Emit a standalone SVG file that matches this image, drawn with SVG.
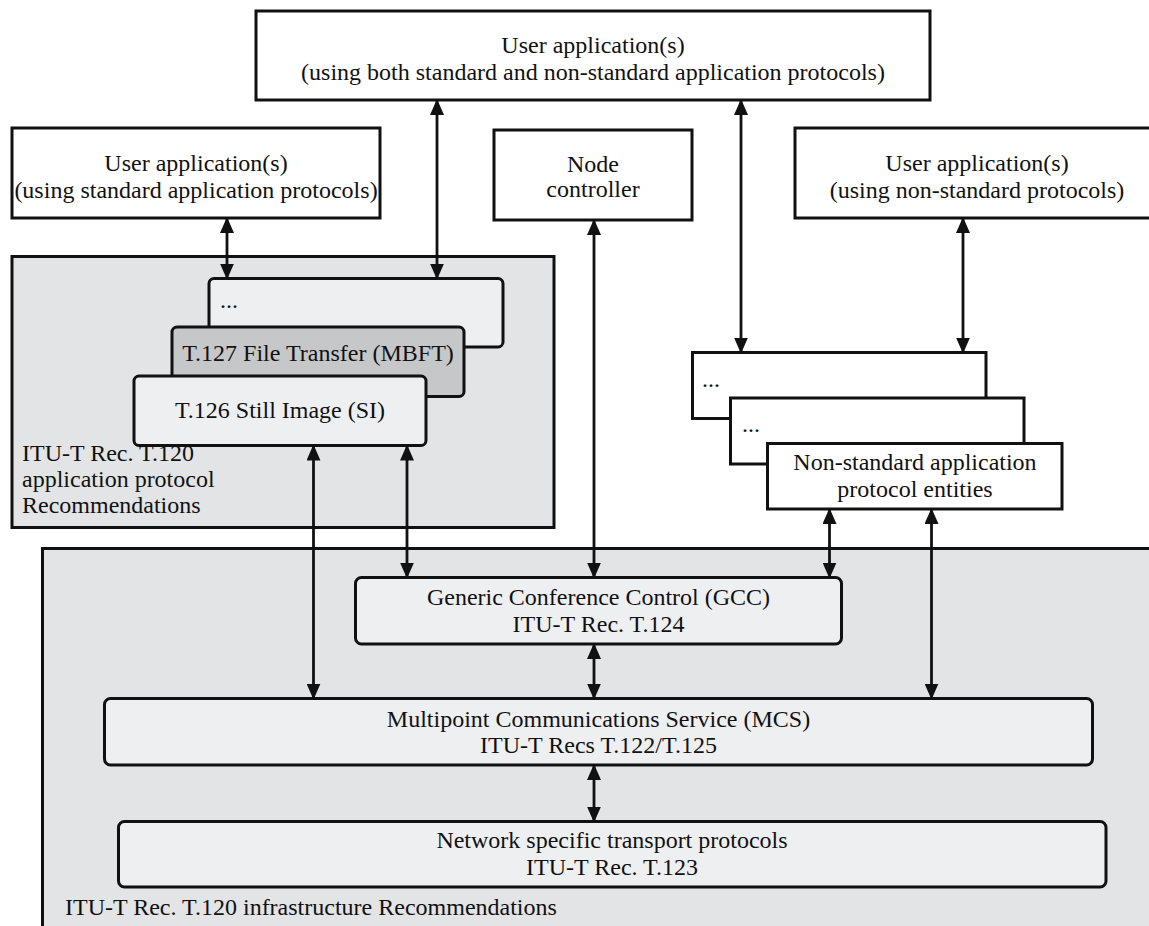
<svg xmlns="http://www.w3.org/2000/svg" width="1149" height="926" viewBox="0 0 1149 926">
  <style>
    text { font-family: 'Liberation Serif', 'Times New Roman', Tinos, 'DejaVu Serif', serif; font-size: 24px; fill: #111; }
    .c { text-anchor: middle; }
    .box { fill: #ffffff; stroke: #111; stroke-width: 3; }
    .area { fill: #e3e4e6; stroke: #111; stroke-width: 3; }
    .layer { fill: #eeeff1; stroke: #111; stroke-width: 3; }
    .dark { fill: #c6c7c9; stroke: #111; stroke-width: 3; }
    .link { fill: none; stroke: #111; stroke-width: 2.8; marker-start: url(#head); marker-end: url(#head); }
  </style>
  <defs>
    <marker id="head" viewBox="0 0 16 14" markerWidth="16" markerHeight="14" refX="15" refY="7" markerUnits="userSpaceOnUse" orient="auto-start-reverse">
      <path d="M0,0 L16,7 L0,14 Z" fill="#111"/>
    </marker>
  </defs>

  <rect width="1149" height="926" fill="#ffffff"/>

  <g font-family="'Liberation Serif', 'Times New Roman', serif" font-size="24">

  <!-- infrastructure area (runs off the right and bottom edges) -->
  <g id="infrastructure">
    <rect class="area" x="42.5" y="548.5" width="1130" height="400"/>
    <text x="65" y="915">ITU-T Rec. T.120 infrastructure Recommendations</text>
  </g>

  <!-- application protocol area -->
  <g id="app-protocols">
    <rect class="area" x="12" y="256.5" width="542" height="271"/>
    <text x="22" y="461">ITU-T Rec. T.120</text>
    <text x="22" y="487">application protocol</text>
    <text x="22" y="513">Recommendations</text>
  </g>

  <!-- top user applications -->
  <g id="user-app-both">
    <rect class="box" x="256" y="11" width="674" height="89"/>
    <text class="c" x="593" y="53">User application(s)</text>
    <text class="c" x="593" y="80">(using both standard and non-standard application protocols)</text>
  </g>

  <g id="user-app-standard">
    <rect class="box" x="12" y="128" width="368" height="90"/>
    <text class="c" x="196" y="171">User application(s)</text>
    <text class="c" x="196" y="198">(using standard application protocols)</text>
  </g>

  <g id="node-controller">
    <rect class="box" x="494" y="130" width="198" height="90"/>
    <text class="c" x="593" y="172">Node</text>
    <text class="c" x="593" y="197">controller</text>
  </g>

  <g id="user-app-nonstandard">
    <rect class="box" x="795" y="128" width="370" height="90"/>
    <text class="c" x="977" y="171">User application(s)</text>
    <text class="c" x="977" y="198">(using non-standard protocols)</text>
  </g>

  <!-- stacked standard application protocol entities -->
  <g id="app-more">
    <rect class="layer" x="209" y="278.5" width="294" height="68.5" rx="5"/>
    <text x="220" y="308">...</text>
  </g>
  <g id="t127">
    <rect class="dark" x="172" y="327" width="292" height="69.5" rx="5"/>
    <text class="c" x="318" y="361">T.127 File Transfer (MBFT)</text>
  </g>
  <g id="t126">
    <rect class="layer" x="134" y="376" width="292" height="69.5" rx="5"/>
    <text class="c" x="280" y="418">T.126 Still Image (SI)</text>
  </g>

  <!-- stacked non-standard application protocol entities -->
  <g id="ns-more-1">
    <rect class="box" x="692.5" y="352.5" width="293.5" height="66"/>
    <text x="702" y="387">...</text>
  </g>
  <g id="ns-more-2">
    <rect class="box" x="730.5" y="398" width="293.5" height="66"/>
    <text x="742" y="432">...</text>
  </g>
  <g id="ns-entities">
    <rect class="box" x="767.5" y="443.5" width="294.5" height="65.5"/>
    <text class="c" x="915" y="470">Non-standard application</text>
    <text class="c" x="915" y="497">protocol entities</text>
  </g>

  <!-- infrastructure layers -->
  <g id="gcc">
    <rect class="layer" x="355.5" y="577.5" width="486" height="66.5" rx="6"/>
    <text class="c" x="598.5" y="605">Generic Conference Control (GCC)</text>
    <text class="c" x="598.5" y="632">ITU-T Rec. T.124</text>
  </g>
  <g id="mcs">
    <rect class="layer" x="104.5" y="698.5" width="988" height="66.5" rx="6"/>
    <text class="c" x="598.5" y="727">Multipoint Communications Service (MCS)</text>
    <text class="c" x="598.5" y="753">ITU-T Recs T.122/T.125</text>
  </g>
  <g id="transport">
    <rect class="layer" x="118.5" y="821.5" width="987.5" height="65.5" rx="6"/>
    <text class="c" x="612" y="848">Network specific transport protocols</text>
    <text class="c" x="612" y="875">ITU-T Rec. T.123</text>
  </g>

  </g>

  <!-- connectors -->
  <g id="connectors">
    <path class="link" d="M227,218 V278.5"/>
    <path class="link" d="M437,100 V278.5"/>
    <path class="link" d="M594,220 V577.5"/>
    <path class="link" d="M741,100 V352.5"/>
    <path class="link" d="M963,218 V352.5"/>
    <path class="link" d="M313.5,445.5 V698.5"/>
    <path class="link" d="M407,445.5 V577.5"/>
    <path class="link" d="M829.5,509 V577.5"/>
    <path class="link" d="M931.5,509 V698.5"/>
    <path class="link" d="M594,644 V698.5"/>
    <path class="link" d="M594,765 V821.5"/>
  </g>
</svg>
